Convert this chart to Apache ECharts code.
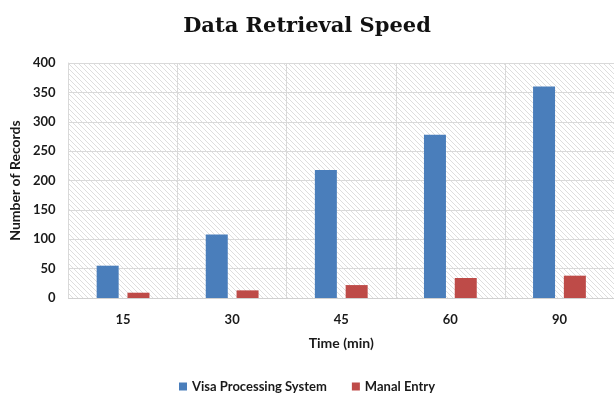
<!DOCTYPE html>
<html>
<head>
<meta charset="utf-8">
<script src="https://cdn.jsdelivr.net/npm/echarts@6/dist/echarts.min.js"></script>
<style>
  html, body { margin: 0; padding: 0; background: #ffffff; }
  #chart { width: 614px; height: 399px; }
</style>
</head>
<body>
<div id="chart"></div>
<script>
// Retrieval time buckets and record counts per method
const timeLabels = ['15', '30', '45', '60', '90'];
const visaProcessing = [55, 108, 218, 278, 360];
const manualEntry = [9, 13, 22, 34, 38];
const yTicks = { min: 0, max: 400, interval: 50 };

// Light diagonal hatch used to fill the plot area
function hatchPattern() {
  const s = 5;
  const c = document.createElement('canvas');
  c.width = s; c.height = s;
  const g = c.getContext('2d');
  g.fillStyle = '#ffffff';
  g.fillRect(0, 0, s, s);
  g.strokeStyle = '#dedede';
  g.lineWidth = 1;
  g.beginPath();
  g.moveTo(0, 0); g.lineTo(s, s);
  g.moveTo(-s, 0); g.lineTo(s, 2 * s);
  g.moveTo(0, -s); g.lineTo(2 * s, s);
  g.stroke();
  return c;
}

const chart = echarts.init(document.getElementById('chart'));
const tickFont = { fontFamily: 'Lato', fontWeight: 'bold', fontSize: 13, color: '#1a1a1a' };
const nameFont = { fontFamily: 'Lato', fontWeight: 'bold', fontSize: 14, color: '#1a1a1a' };

chart.setOption({
  animation: false,
  backgroundColor: '#ffffff',
  title: {
    text: 'Data Retrieval Speed',
    left: 'center',
    top: 11,
    textStyle: { fontFamily: 'DejaVu Serif', fontWeight: 'bold', fontSize: 21, color: '#111111' }
  },
  legend: {
    bottom: 1,
    left: 'center',
    itemWidth: 8,
    itemHeight: 8,
    itemGap: 25,
    icon: 'rect',
    textStyle: { fontFamily: 'Lato', fontWeight: 'bold', fontSize: 13, color: '#1a1a1a' },
    data: ['Visa Processing System', 'Manal Entry']
  },
  grid: {
    left: 64, right: 0, top: 63, bottom: 101,
    show: true,
    borderWidth: 0,
    backgroundColor: { image: hatchPattern(), repeat: 'repeat' }
  },
  xAxis: {
    type: 'category',
    data: timeLabels,
    name: 'Time (min)',
    nameLocation: 'middle',
    nameGap: 38,
    nameTextStyle: nameFont,
    axisTick: { show: false },
    axisLine: { lineStyle: { color: '#d0d0d0' } },
    axisLabel: Object.assign({ margin: 15 }, tickFont),
    splitLine: { show: true, lineStyle: { color: '#d9d9d9' } }
  },
  yAxis: {
    type: 'value',
    min: yTicks.min,
    max: yTicks.max,
    interval: yTicks.interval,
    name: 'Number of Records',
    nameLocation: 'middle',
    nameGap: 46,
    nameTextStyle: nameFont,
    axisLine: { show: true, lineStyle: { color: '#d9d9d9' } },
    axisTick: { show: false },
    axisLabel: Object.assign({ margin: 13 }, tickFont),
    splitLine: { lineStyle: { color: '#d9d9d9' } }
  },
  series: [
    {
      name: 'Visa Processing System',
      type: 'bar',
      data: visaProcessing,
      barWidth: 22,
      barGap: '40%',
      itemStyle: { color: '#4a7ebb' }
    },
    {
      name: 'Manal Entry',
      type: 'bar',
      data: manualEntry,
      barWidth: 22,
      itemStyle: { color: '#be4b48' }
    }
  ]
});
</script>
</body>
</html>
